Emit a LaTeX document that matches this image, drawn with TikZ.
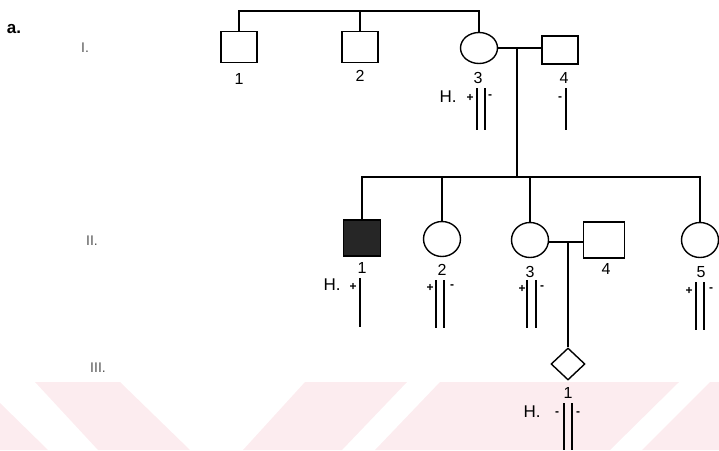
\documentclass[tikz,border=0pt]{standalone}
\usepackage{fontspec}
\setmainfont{Liberation Sans}
\usetikzlibrary{shapes,positioning,calc}

\definecolor{wmpink}{RGB}{252,236,239}
\definecolor{gen}{RGB}{85,85,85}

\begin{document}
\begin{tikzpicture}[
    x=1pt, y=-1pt,
    line width=1.4pt,
    male/.style={rectangle, draw, minimum width=36pt, minimum height=31pt, inner sep=0pt},
    female/.style={ellipse, draw, minimum width=37pt, minimum height=35pt, inner sep=0pt},
    unknown/.style={diamond, draw, minimum width=34pt, minimum height=32pt, inner sep=0pt},
    affected/.style={male, fill=black!85},
    num/.style={font=\fontsize{16}{16}\selectfont, inner sep=0pt},
    htag/.style={font=\fontsize{17}{17}\selectfont, inner sep=0pt},
    sign/.style={font=\fontsize{12}{12}\selectfont\bfseries, inner sep=0pt},
    bar/.style={line width=1.3pt},
    gentag/.style={font=\fontsize{14}{14}\selectfont, text=gen, inner sep=0pt}
]
\useasboundingbox (0,0) rectangle (719,450);

% background stripes
\fill[wmpink] (0,403) -- (48,450) -- (0,450) -- cycle;
\fill[wmpink] (35,382) -- (120,382) -- (190,450) -- (98,450) -- cycle;
\fill[wmpink] (305,382) -- (407,382) -- (342,450) -- (243,450) -- cycle;
\fill[wmpink] (440,382) -- (679,382) -- (610,450) -- (375,450) -- cycle;
\fill[wmpink] (710,382) -- (719,382) -- (719,450) -- (642,450) -- cycle;

% panel and generation tags
\node[font=\fontsize{17}{17}\selectfont\bfseries, inner sep=0pt] (panel) at (14,29) {a.};
\node[gentag] (genI) at (85,48) {I.};
\node[gentag] (genII) at (92,241) {II.};
\node[gentag] (genIII) at (98,368) {III.};

% Generation I
\node[male] (i1) at (239,47) {};
\node[male] (i2) at (360,47) {};
\node[female, minimum height=31pt] (i3) at (479,48) {};
\node[male, minimum height=28pt] (i4) at (560,50) {};
\node[num] (li1) at (239,79) {1};
\node[num] (li2) at (360,76) {2};
\node[num] (li3) at (478,78) {3};
\node[num] (li4) at (564,78) {4};

\coordinate (sibI) at (0,11);
\draw (i1.north) -- (i1.north |- sibI) -- (i3.north |- sibI) -- (i3.north);
\draw (i2.north) -- (i2.north |- sibI);
\draw (i3.east) -- (i3.east -| i4.west);
\coordinate (mateI) at (517,48);

% Generation II
\node[affected, minimum width=37pt, minimum height=36pt] (ii1) at (362,238) {};
\node[female] (ii2) at (442,239) {};
\node[female] (ii3) at (530,240) {};
\node[male, minimum width=41pt, minimum height=36pt] (ii4) at (604,240) {};
\node[female] (ii5) at (700,240) {};
\node[num] (lii1) at (362,268) {1};
\node[num] (lii2) at (442,270) {2};
\node[num] (lii3) at (530,272) {3};
\node[num] (lii4) at (606,269) {4};
\node[num] (lii5) at (701,272) {5};

\coordinate (sibII) at (0,177);
\coordinate (mateII) at (568,242);
\draw (mateI) -- (mateI |- sibII);
\draw (ii1.north) -- (ii1.north |- sibII) -- (ii5.north |- sibII) -- (ii5.north);
\draw (ii2.north) -- (ii2.north |- sibII);
\draw (ii3.north) -- (ii3.north |- sibII);
\draw (ii3.east |- mateII) -- (ii4.west |- mateII);

% Generation III
\node[unknown] (iii1) at (568,364) {};
\node[num] (liii1) at (568,393) {1};
\draw (mateII) -- (iii1.north);

% haplotype bars
\node[htag] (hi3) at (448,97) {H.};
\node[sign] at (470,98) {+};
\node[sign] at (490,97) {-};
\draw[bar] (477,88) -- (477,130);
\draw[bar] (485,88) -- (485,130);

\node[sign] at (560,99) {-};
\draw[bar] (566,88) -- (566,130);

\node[htag] (hii1) at (332,285) {H.};
\node[sign] at (353,287) {+};
\draw[bar] (360,278) -- (360,327);

\node[sign] at (430,288) {+};
\node[sign] at (452,287) {-};
\draw[bar] (436,280) -- (436,328);
\draw[bar] (444,280) -- (444,328);

\node[sign] at (522,289) {+};
\node[sign] at (542,288) {-};
\draw[bar] (527,280) -- (527,328);
\draw[bar] (536,280) -- (536,328);

\node[sign] at (689,291) {+};
\node[sign] at (711,290) {-};
\draw[bar] (696,282) -- (696,330);
\draw[bar] (704,282) -- (704,330);

\node[htag] (hiii1) at (532,412) {H.};
\node[sign] at (557,414) {-};
\node[sign] at (578,414) {-};
\draw[bar] (564,403) -- (564,450);
\draw[bar] (572,403) -- (572,450);

\end{tikzpicture}
\end{document}
